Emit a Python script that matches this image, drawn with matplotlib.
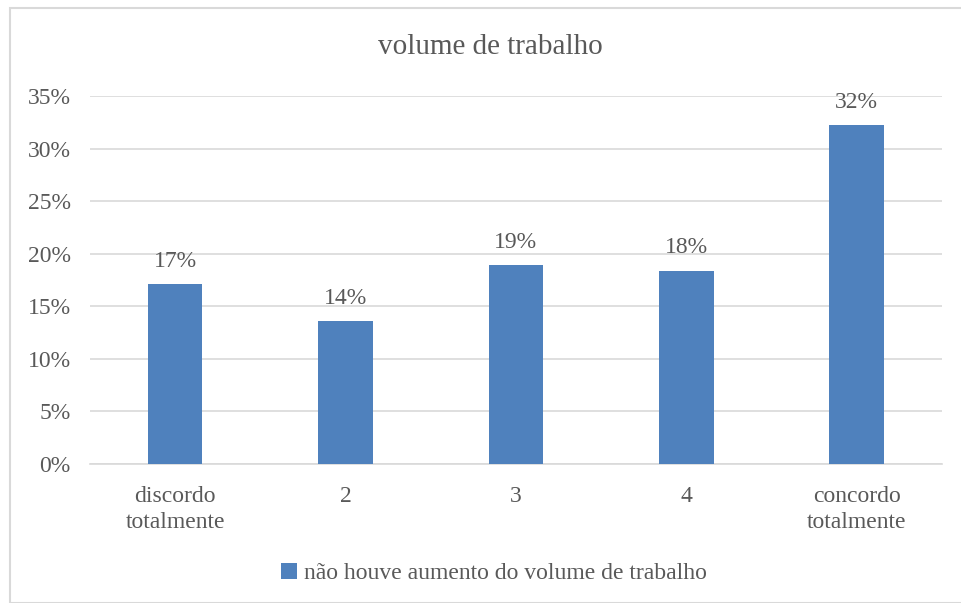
import matplotlib
matplotlib.use("Agg")
import matplotlib.pyplot as plt
from matplotlib.patches import Rectangle
from matplotlib.ticker import PercentFormatter

# Respostas (fração dos inquiridos) por nível de concordância
categorias = ["discordo\ntotalmente", "2", "3", "4", "concordo\ntotalmente"]
valores = [0.171, 0.136, 0.189, 0.184, 0.322]
serie = "não houve aumento do volume de trabalho"
titulo = "volume de trabalho"

azul = "#4F81BD"
cinza_texto = "#595959"
cinza_grelha = "#D9D9D9"
fonte = ["Liberation Serif", "DejaVu Serif"]

plt.rcParams["font.family"] = fonte

fig = plt.figure(figsize=(9.61, 6.03), dpi=100)
ax = fig.add_axes([0.0937, 0.2305, 0.8863, 0.6103])

x = range(len(categorias))
barras = ax.bar(x, valores, width=0.32, color=azul, label=serie, zorder=3)

for b, v in zip(barras, valores):
    ax.annotate(f"{v:.0%}", (b.get_x() + b.get_width() / 2, v),
                xytext=(0, 9), textcoords="offset points",
                ha="center", va="bottom", fontsize=17, color=cinza_texto)

ax.set_xlim(-0.5, len(categorias) - 0.5)
ax.set_ylim(0, 0.35)
ax.set_yticks([i * 0.05 for i in range(8)])
ax.yaxis.set_major_formatter(PercentFormatter(1.0, decimals=0))
ax.set_xticks(list(x))
ax.set_xticklabels(categorias, linespacing=1.3)
ax.tick_params(axis="both", length=0, labelsize=17, colors=cinza_texto,
               labelfontfamily="Liberation Serif")
ax.tick_params(axis="x", pad=16)
ax.tick_params(axis="y", pad=14)

ax.grid(axis="y", color=cinza_grelha, linewidth=1.2, zorder=0)
for lado in ["top", "right", "left"]:
    ax.spines[lado].set_visible(False)
ax.spines["bottom"].set_color(cinza_grelha)
ax.spines["bottom"].set_linewidth(1.2)

fig.text(0.51, 0.922, titulo, ha="center", va="center", fontsize=21,
         color=cinza_texto)

fig.legend(loc="center", bbox_to_anchor=(0.514, 0.049), frameon=False,
           fontsize=17, labelcolor=cinza_texto, handlelength=0.7,
           handleheight=0.7, handletextpad=0.3)

# moldura da área do gráfico
fig.patches.append(Rectangle((10 / 961, 0.0), 1.2, 1 - 8 / 603,
                             transform=fig.transFigure, fill=False,
                             edgecolor=cinza_grelha, linewidth=1.5))

fig.savefig("out.png", dpi=100)
